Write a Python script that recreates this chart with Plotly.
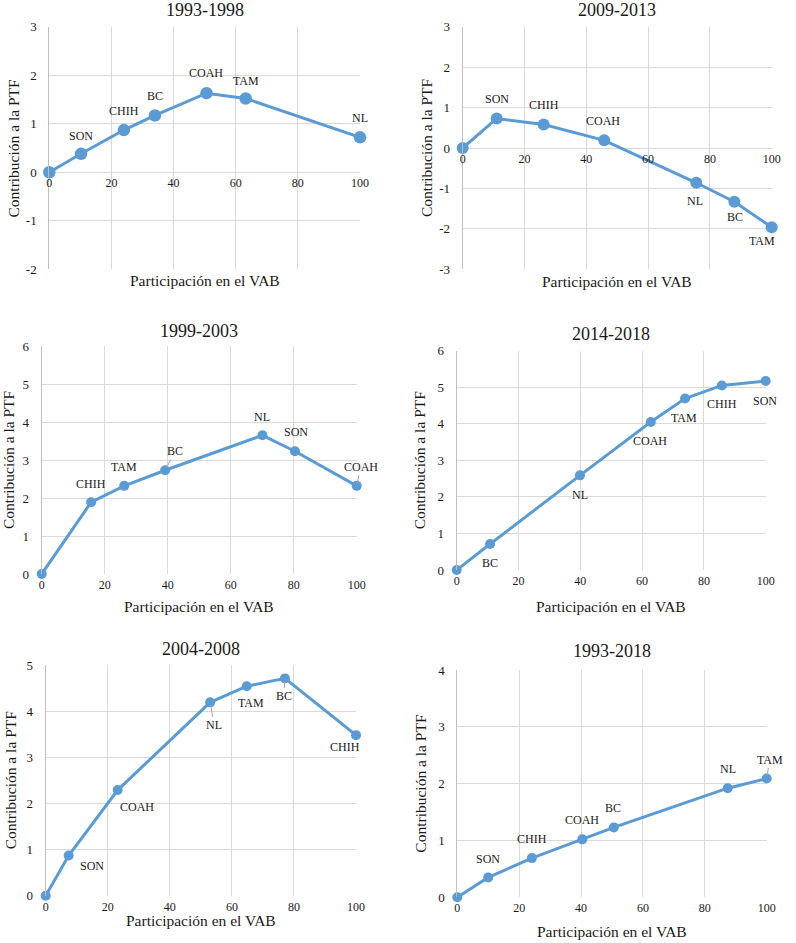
import plotly.graph_objects as go

W, H = 796, 943

# ---------------- data ----------------
titles = ["1993-1998", "2009-2013", "1999-2003", "2014-2018", "2004-2008", "1993-2018"]

p1_states = ["", "SON", "CHIH", "BC", "COAH", "TAM", "NL"]
p1_x = [0, 10.2, 24.0, 34.0, 50.6, 63.2, 100]
p1_y = [0, 0.38, 0.87, 1.17, 1.63, 1.52, 0.72]

p2_states = ["", "SON", "CHIH", "COAH", "NL", "BC", "TAM"]
p2_x = [0, 11.0, 26.2, 45.8, 75.6, 87.9, 100]
p2_y = [0, 0.73, 0.58, 0.19, -0.86, -1.33, -1.96]

p3_states = ["", "CHIH", "TAM", "BC", "NL", "SON", "COAH"]
p3_x = [0, 15.7, 26.2, 39.2, 70.1, 80.4, 100]
p3_y = [0, 1.89, 2.32, 2.73, 3.65, 3.23, 2.32]

p4_states = ["", "BC", "NL", "COAH", "TAM", "CHIH", "SON"]
p4_x = [0, 10.8, 39.9, 62.8, 73.9, 85.8, 100]
p4_y = [0, 0.71, 2.59, 4.05, 4.69, 5.05, 5.17]

p5_states = ["", "SON", "COAH", "NL", "TAM", "BC", "CHIH"]
p5_x = [0, 7.4, 23.2, 53.0, 64.8, 77.1, 100]
p5_y = [0, 0.87, 2.29, 4.19, 4.54, 4.71, 3.48]

p6_states = ["", "SON", "CHIH", "COAH", "BC", "NL", "TAM"]
p6_x = [0, 10.0, 24.1, 40.4, 50.6, 87.4, 100]
p6_y = [0, 0.35, 0.69, 1.02, 1.23, 1.92, 2.09]

y_ranges = [(-2, 3), (-3, 3), (0, 6), (0, 6), (0, 5), (0, 4)]
x_ticks = [0, 20, 40, 60, 80, 100]
x_title = "Participación en el VAB"
y_title = "Contribución a la PTF"

panels = [
    (p1_states, p1_x, p1_y),
    (p2_states, p2_x, p2_y),
    (p3_states, p3_x, p3_y),
    (p4_states, p4_x, p4_y),
    (p5_states, p5_x, p5_y),
    (p6_states, p6_x, p6_y),
]

# ---------------- layout / style ----------------
# plot boxes in pixels: left, right, top, bottom
boxes = [
    (49.3, 360.0, 26.7, 269.3),
    (462.7, 771.7, 26.7, 269.3),
    (41.7, 356.7, 346.0, 574.0),
    (456.7, 765.7, 350.7, 570.0),
    (45.7, 356.0, 665.0, 895.7),
    (457.3, 766.7, 670.0, 897.3),
]
title_y = [10.5, 10.5, 331, 334, 649, 651]
xtitle_y = [280, 281, 606.5, 606.5, 920, 931]
ytitle_x = [12.5, 426, 8, 419, 10, 421]
marker_sizes = [12.5, 12, 10, 10, 10, 10]

# label offsets (dx, dy in px, text centre relative to point) and leader flag
label_offsets = [
    [None, (0, -18, 0), (0, -19, 0), (0, -19, 0), (-1, -20, 0), (0, -18, 0), (0, -19, 0)],
    [None, (0, -19, 0), (0, -20, 0), (-1, -19, 0), (-1, 18, 0), (1, 15, 0), (-10, 14, 0)],
    [None, (0, -18, 0), (0, -19, 0), (10, -19, 1), (-1, -18, 0), (1, -19, 0), (4, -19, 1)],
    [None, (0, 19, 0), (0, 20, 0), (-1, 19, 0), (-1, 19, 0), (0, 19, 0), (-1, 20, 0)],
    [None, (23, 10, 0), (19, 17, 0), (4, 23, 1), (4, 17, 0), (-1, 18, 1), (-11, 12, 0)],
    [None, (0, -18, 0), (0, -19, 0), (0, -19, 0), (-1, -19, 0), (0, -19, 0), (3, -19, 1)],
]

BLUE = "#5B9BD5"
GRID = "#d9d9d9"
TXT = "#1a1a1a"
FONT = "Liberation Serif, Times New Roman, serif"

fig = go.Figure()
annotations = []
layout = {}

for i, ((states, xs, ys), box, (ymin, ymax)) in enumerate(zip(panels, boxes, y_ranges)):
    n = i + 1
    sfx = "" if n == 1 else str(n)
    l, r, t, b = box
    xdom = [l / W, r / W]
    ydom = [1 - b / H, 1 - t / H]

    fig.add_trace(go.Scatter(
        x=xs, y=ys, mode="lines+markers",
        line=dict(color=BLUE, width=3),
        marker=dict(size=marker_sizes[i], color=BLUE),
        xaxis="x" + sfx, yaxis="y" + sfx,
        cliponaxis=False, showlegend=False, hoverinfo="x+y",
    ))

    yticks = list(range(ymin, ymax + 1))
    xa = dict(
        domain=xdom, range=[0, 100], tickvals=x_ticks,
        ticktext=[str(v) for v in x_ticks],
        showgrid=True, gridcolor=GRID, gridwidth=1, zeroline=False,
        showline=False, ticks="", ticklabelstandoff=2, automargin=False,
        tickfont=dict(family=FONT, size=12, color=TXT),
        anchor="y" + sfx, fixedrange=True,
    )
    if ymin < 0:
        pos = ydom[0] + (0 - ymin) / (ymax - ymin) * (ydom[1] - ydom[0])
        xa.update(anchor="free", position=pos)
    ya = dict(
        domain=ydom, range=[ymin, ymax], tickvals=yticks,
        ticktext=[str(v) for v in yticks],
        showgrid=True, gridcolor=GRID, gridwidth=1, zeroline=False,
        showline=True, linecolor="#bfbfbf", linewidth=1,
        ticks="", ticklabelstandoff=9, automargin=False,
        tickfont=dict(family=FONT, size=13, color=TXT),
        anchor="x" + sfx, fixedrange=True,
    )
    layout["xaxis" + sfx] = xa
    layout["yaxis" + sfx] = ya

    cx = (l + r) / 2 / W
    annotations.append(dict(text=titles[i], x=cx, y=1 - title_y[i] / H, xref="paper", yref="paper",
                            xanchor="center", yanchor="middle", showarrow=False,
                            font=dict(family=FONT, size=18, color=TXT)))
    annotations.append(dict(text=x_title, x=cx, y=1 - xtitle_y[i] / H, xref="paper", yref="paper",
                            xanchor="center", yanchor="middle", showarrow=False,
                            font=dict(family=FONT, size=15.5, color=TXT)))
    annotations.append(dict(text=y_title, x=ytitle_x[i] / W, y=1 - (t + b) / 2 / H, xref="paper", yref="paper",
                            xanchor="center", yanchor="middle", showarrow=False, textangle=-90,
                            font=dict(family=FONT, size=15.5, color=TXT)))

    for j, (lab, xv, yv) in enumerate(zip(states, xs, ys)):
        off = label_offsets[i][j]
        if not lab or off is None:
            continue
        dx, dy, leader = off
        annotations.append(dict(
            text=lab, x=xv, y=yv, xref="x" + sfx, yref="y" + sfx,
            showarrow=True, ax=dx, ay=dy, arrowhead=0, arrowwidth=1,
            arrowcolor="#a6a6a6" if leader else "rgba(0,0,0,0)",
            standoff=3, xanchor="center", yanchor="middle",
            font=dict(family=FONT, size=12, color=TXT),
        ))

fig.update_layout(
    template="none",
    width=W, height=H, margin=dict(l=0, r=0, t=0, b=0),
    paper_bgcolor="white", plot_bgcolor="white",
    annotations=annotations, **layout,
)

fig.write_html(
    "out.html",
    config={"displayModeBar": False},
    post_script="document.body.style.margin='0px';document.body.style.padding='0px';",
)
